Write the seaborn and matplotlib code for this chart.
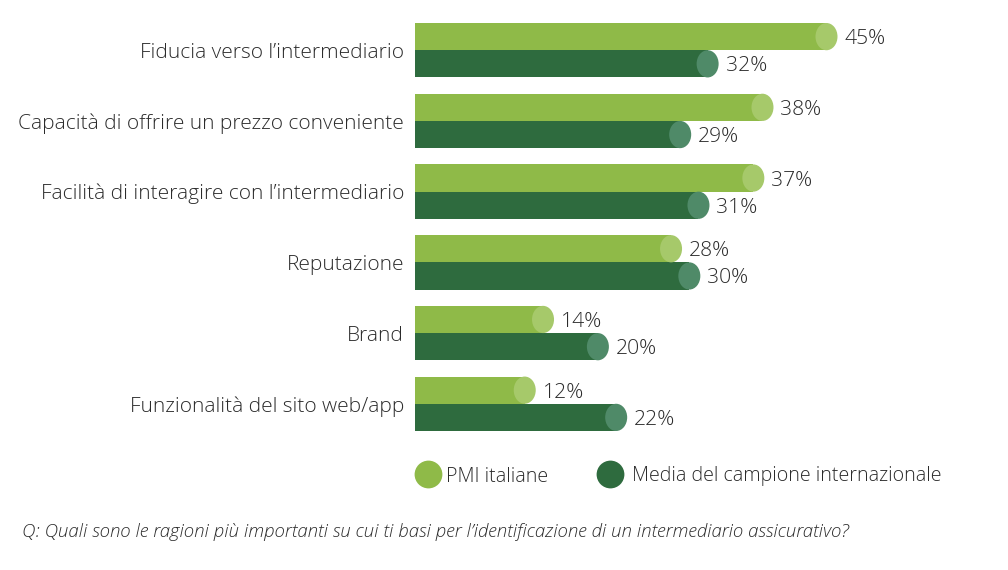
import matplotlib
matplotlib.use("Agg")
import matplotlib.pyplot as plt
from matplotlib.lines import Line2D
from matplotlib.patches import Ellipse
import pandas as pd
import seaborn as sns

categories = [
    "Fiducia verso l\u2019intermediario",
    "Capacità di offrire un prezzo conveniente",
    "Facilità di interagire con l\u2019intermediario",
    "Reputazione",
    "Brand",
    "Funzionalità del sito web/app",
]
pmi_italiane = [45, 38, 37, 28, 14, 12]
media_internazionale = [32, 29, 31, 30, 20, 22]
series_names = ["PMI italiane", "Media del campione internazionale"]

bar_colors = ["#8fba48", "#2e6b3e"]
cap_colors = ["#a6c96a", "#4f8a68"]
text_color = "#2b2b2b"

df = pd.DataFrame({
    "categoria": categories * 2,
    "valore": pmi_italiane + media_internazionale,
    "serie": [series_names[0]] * len(categories) + [series_names[1]] * len(categories),
})

sns.set_style("white")
plt.rcParams["font.family"] = ["Open Sans", "DejaVu Sans"]
plt.rcParams["font.weight"] = "light"

W, H = 1008, 570
fig = plt.figure(figsize=(W / 100, H / 100), dpi=100)
ax_px = (415, 23, 545, 408)  # left, top, width, height in px
ax = fig.add_axes([ax_px[0] / W, 1 - (ax_px[1] + ax_px[3]) / H, ax_px[2] / W, ax_px[3] / H])

sns.barplot(data=df, y="categoria", x="valore", hue="serie", orient="h",
            palette=bar_colors, width=0.77, gap=0, dodge=True,
            legend=False, ax=ax, linewidth=0, saturation=1)

xmax = 59.6
ax.set_xlim(0, xmax)
ax.set_ylim(5.385, -0.385)

# elliptical cap + value label at the end of each bar
cap_px = 22
cap_w = cap_px * xmax / ax_px[2]
for i, patch in enumerate(ax.patches[:2 * len(categories)]):
    series = i // len(categories)
    w = patch.get_width()
    h = patch.get_height()
    yc = patch.get_y() + h / 2
    ax.add_patch(Ellipse((w, yc), cap_w, h, facecolor=cap_colors[series],
                         edgecolor="none", zorder=3, clip_on=False))
    ax.annotate(f"{w:.0f}%", (w, yc), xytext=(cap_px * 0.72 / 2 + 5, 0),
                textcoords="offset points", va="center_baseline", ha="left",
                fontsize=15.2, color=text_color)

ax.set_xlabel("")
ax.set_ylabel("")
ax.set_xticks([])
ax.tick_params(axis="y", length=0, pad=8, labelsize=15, labelcolor=text_color)
sns.despine(ax=ax, left=True, bottom=True)

# legend drawn by hand
leg_y = 1 - 474 / H
for name, color, mx, tx in zip(series_names, bar_colors, [428, 610], [446, 632]):
    fig.add_artist(Line2D([mx / W], [leg_y], marker="o", linestyle="none",
                          markersize=20, markerfacecolor=color,
                          markeredgewidth=0, transform=fig.transFigure))
    fig.text(tx / W, leg_y, name, fontsize=14.1, color=text_color,
             va="center_baseline", ha="left")

fig.text(22 / W, 1 - 530 / H,
         "Q: Quali sono le ragioni più importanti su cui ti basi per l\u2019identificazione di un intermediario assicurativo?",
         fontsize=13.4, style="italic", color=text_color, va="center_baseline", ha="left")

fig.savefig("out.png", dpi=100, facecolor="white")
